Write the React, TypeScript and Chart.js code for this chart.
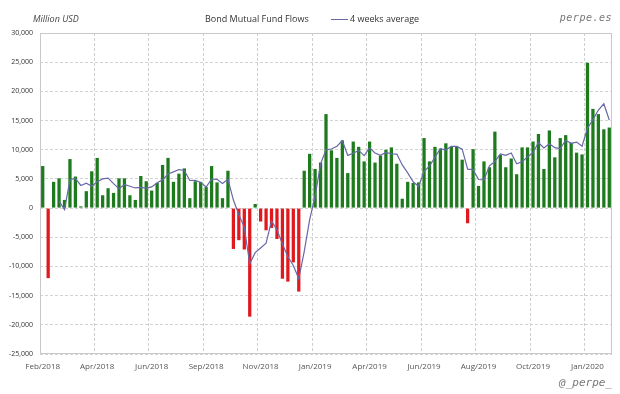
import React, { useEffect, useRef } from "react";
import { Chart, registerables } from "chart.js";

Chart.register(...registerables);

// Month tick labels, one every 10 weeks
const tickLabels = [
  "Feb/2018", "Apr/2018", "Jun/2018", "Sep/2018", "Nov/2018", "Jan/2019",
  "Apr/2019", "Jun/2019", "Aug/2019", "Oct/2019", "Jan/2020",
];

// Weekly bond mutual fund flows (million USD)
const flows = [
  7200, -12000, 4500, 5100, 1400, 8400, 5400, 300, 2900, 6300,
  8600, 2200, 3400, 2600, 5100, 5100, 2200, 1400, 5500, 4600,
  3000, 4300, 7400, 8600, 4500, 5900, 6800, 1700, 4600, 4500,
  3600, 7200, 4400, 1700, 6400, -7000, -5500, -7100, -18600, 700,
  -2300, -3800, -3400, -5300, -12100, -12600, -9300, -14300, 6400, 9300,
  6700, 7800, 16100, 9900, 8600, 11600, 6000, 11400, 10500, 8000,
  11400, 7800, 9000, 10000, 10400, 7600, 1600, 4500, 4300, 4400,
  12000, 8000, 10500, 10200, 11100, 10500, 10500, 8300, -2600, 10100,
  3800, 8000, 7000, 13100, 9100, 7000, 8500, 5800, 10400, 10400,
  11400, 12700, 6700, 13300, 8700, 12000, 12500, 11200, 9500, 9200,
  24900, 17000, 16100, 13500, 13800,
];

// 4 weeks average line (million USD)
const avg4: (number | null)[] = [
  null, null, null, 1200, -250, 4850, 5080, 3880, 4250, 3730,
  4530, 5000, 5130, 4200, 3330, 4050, 3750, 3450, 3550, 3430,
  3630, 4350, 4830, 5830, 6200, 6600, 6450, 4730, 4750, 4400,
  3600, 4980, 4930, 4230, 4930, 1380, -1100, -3300, -9550, -7630,
  -6830, -6000, -2200, -3700, -6150, -8350, -9830, -12080, -7450, -1980,
  2030, 7550, 9980, 10130, 10600, 11550, 9030, 9400, 9880, 8980,
  10330, 9430, 9050, 9550, 9300, 9250, 7400, 6030, 4500, 3700,
  6300, 7180, 8730, 10180, 9950, 10580, 10580, 10100, 6680, 6580,
  4900, 4830, 7230, 7980, 9300, 9050, 9430, 7600, 7930, 8780,
  9500, 11230, 10300, 11030, 10350, 10180, 11630, 11100, 11300, 10600,
  13700, 15150, 16800, 17880, 15100,
];

const yMin = -25000;
const yMax = 30000;
const yStep = 5000;

const GREEN = "#1d7a1d";
const RED = "#e0191e";
const LINE = "#6868a8";

export default function App() {
  const ref = useRef<HTMLCanvasElement>(null);

  useEffect(() => {
    if (!ref.current) return;
    const frame = {
      id: "frame",
      beforeDatasetsDraw(chart: any) {
        const { ctx, chartArea: a } = chart;
        ctx.save();
        ctx.strokeStyle = "#c9c9c9";
        ctx.lineWidth = 1;
        ctx.setLineDash([]);
        ctx.strokeRect(a.left + 0.5, a.top + 0.5, a.right - a.left - 1, a.bottom - a.top - 1);
        ctx.restore();
      },
    };
    const categories = flows.map((_, i) => String(i));
    const chart = new Chart(ref.current, {
      type: "bar",
      data: {
        labels: categories,
        datasets: [
          {
            type: "line",
            label: "4 weeks average",
            data: avg4,
            borderColor: LINE,
            borderWidth: 1.2,
            pointRadius: 0,
            tension: 0,
            spanGaps: false,
            order: 0,
          } as any,
          {
            type: "bar",
            label: "Bond Mutual Fund Flows",
            data: flows,
            backgroundColor: flows.map((v) => (v >= 0 ? GREEN : RED)),
            borderWidth: 0,
            barPercentage: 0.6,
            categoryPercentage: 1,
            order: 1,
          },
        ],
      },
      options: {
        animation: false,
        responsive: false,
        devicePixelRatio: 1,
        layout: { padding: { left: 0, top: 33, right: 8, bottom: 0 } },
        plugins: {
          legend: { display: false },
          tooltip: { enabled: false },
        },
        scales: {
          x: {
            offset: true,
            grid: {
              offset: true,
              drawTicks: false,
              color: (c: any) => (c.index % 10 === 0 && c.index > 0 ? "#cfcfcf" : "rgba(0,0,0,0)"),
              lineWidth: 1,
            },
            border: { display: false, dash: [3, 2] },
            ticks: {
              autoSkip: false,
              maxRotation: 0,
              minRotation: 0,
              padding: 8,
              color: "#555",
              font: { family: "'Open Sans', Lato, sans-serif", size: 8 },
              callback: (_v: any, i: number) => (i % 10 === 0 ? tickLabels[i / 10] : ""),
            },
            afterFit: (s: any) => {
              s.height = 40;
            },
          },
          y: {
            min: yMin,
            max: yMax,
            grid: {
              drawTicks: false,
              color: "#d2d2d2",
              lineWidth: 1,
            },
            border: { display: false, dash: [3, 2] },
            ticks: {
              stepSize: yStep,
              padding: 7,
              color: "#333",
              font: { family: "'Open Sans', Lato, sans-serif", size: 7 },
              callback: (v: any) => Number(v).toLocaleString("en-US"),
            },
            afterFit: (s: any) => {
              s.width = 40;
            },
          },
        },
      },
      plugins: [frame],
    });
    return () => chart.destroy();
  }, []);

  const txt: React.CSSProperties = {
    position: "absolute",
    fontFamily: "'Open Sans', Lato, sans-serif",
    whiteSpace: "nowrap",
    lineHeight: 1,
  };

  return (
    <div style={{ position: "fixed", left: 0, top: 0, width: 620, height: 394, background: "#fff" }}>
      <canvas ref={ref} width={620} height={394} style={{ display: "block", width: 620, height: 394 }} />
      <span style={{ ...txt, left: 33, top: 14, fontSize: 9, fontStyle: "italic", color: "#444" }}>Million USD</span>
      <span style={{ ...txt, left: 205, top: 14, fontSize: 9, color: "#333" }}>Bond Mutual Fund Flows</span>
      <span style={{ ...txt, left: 331, top: 19, width: 17, height: 0, borderTop: `1px solid ${LINE}` }} />
      <span style={{ ...txt, left: 350, top: 14, fontSize: 9, color: "#333" }}>4 weeks average</span>
      <span style={{ ...txt, right: 8, top: 13, fontSize: 10, fontStyle: "italic", color: "#777", fontFamily: "'DejaVu Sans Mono', monospace", letterSpacing: 0.5 }}>perpe.es</span>
      <span style={{ ...txt, right: 8, top: 377, fontSize: 11, fontStyle: "italic", color: "#777", fontFamily: "'DejaVu Sans Mono', monospace" }}>@_perpe_</span>
    </div>
  );
}
